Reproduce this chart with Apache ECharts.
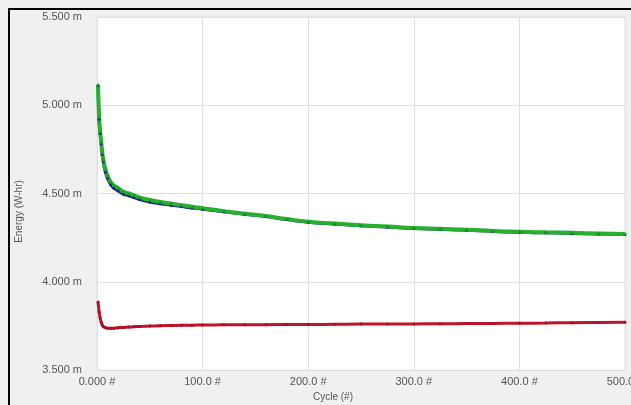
<!DOCTYPE html>
<html lang="en">
<head>
    <meta charset="UTF-8">
    <title>Energy vs Cycle</title>
    <style>
        *{
            margin: 0;
            padding: 0;
        }
        html, body{
            background: #f0f0f0;
            width: 631px;
            height: 405px;
            overflow: hidden;
        }
        .frame{
            position: absolute;
            left: 8px;
            top: 8px;
            width: 621px;
            height: 395px;
            border-top: 2px solid #000;
            border-left: 2px solid #000;
            overflow: hidden;
        }
        #box{
            width: 630px;
            height: 400px;
        }
    </style>
    <script src="https://cdn.jsdelivr.net/npm/echarts@6/dist/echarts.min.js"></script>
</head>
<body>
    <div class="frame"><div id="box"></div></div>
    <script>
        // cycle numbers
        var cycles = [1,2,3,4,5,6,8,10,13,16,20,25,30,35,40,50,60,70,80,90,100,120,140,160,180,200,225,250,275,300,325,350,375,400,425,450,475,500];
        // green series
        var greenVals = [5.115,4.93,4.85,4.79,4.73,4.69,4.635,4.60,4.565,4.545,4.530,4.510,4.500,4.490,4.478,4.463,4.452,4.443,4.434,4.425,4.417,4.400,4.385,4.372,4.355,4.340,4.330,4.320,4.313,4.305,4.300,4.295,4.288,4.283,4.280,4.277,4.273,4.270];
        // blue series (mostly hidden under green)
        var blueVals = [5.11,4.92,4.84,4.78,4.72,4.68,4.62,4.585,4.55,4.53,4.515,4.497,4.487,4.477,4.467,4.452,4.442,4.434,4.426,4.418,4.411,4.396,4.382,4.369,4.352,4.337,4.327,4.317,4.310,4.302,4.297,4.292,4.285,4.280,4.277,4.274,4.270,4.267];
        // red series
        var redVals = [3.885,3.83,3.795,3.77,3.755,3.746,3.740,3.737,3.736,3.737,3.739,3.741,3.743,3.745,3.747,3.749,3.751,3.752,3.753,3.754,3.755,3.756,3.757,3.757,3.758,3.758,3.759,3.760,3.760,3.761,3.762,3.763,3.764,3.765,3.766,3.768,3.769,3.771];

        function pairs(vals){
            var out = [];
            for(var i = 0; i < cycles.length; i++){
                out.push([cycles[i], vals[i]]);
            }
            return out;
        }

        var myChart = echarts.init(document.getElementById('box'));
        var option = {
            animation: false,
            textStyle: { fontFamily: 'Liberation Sans, Arial, sans-serif' },
            grid: {
                left: 87,
                top: 7,
                right: 15,
                bottom: 40,
                outerBoundsMode: 'none',
                containLabel: false,
                show: true,
                backgroundColor: '#ffffff',
                borderColor: '#e2e2e2',
                borderWidth: 1
            },
            xAxis: {
                type: 'value',
                min: 0,
                max: 500,
                interval: 100,
                name: 'Cycle (#)',
                nameLocation: 'middle',
                nameGap: 20,
                nameTextStyle: { color: '#555', fontSize: 10, padding: [0, 56, 0, 0] },
                axisLine: { show: false },
                axisTick: { show: false },
                axisLabel: {
                    color: '#555',
                    fontSize: 11,
                    margin: 6,
                    formatter: function(v){
                        return v === 0 ? '0.000 #' : v.toFixed(1) + ' #';
                    }
                },
                splitLine: { lineStyle: { color: '#e0e0e0' } }
            },
            yAxis: {
                type: 'value',
                min: 3.5,
                max: 5.5,
                interval: 0.5,
                name: 'Energy (W-hr)',
                nameLocation: 'middle',
                nameGap: 73,
                nameTextStyle: { color: '#555', fontSize: 10, padding: [0, 36, 0, 0] },
                axisLine: { show: false },
                axisTick: { show: false },
                axisLabel: {
                    color: '#555',
                    fontSize: 11,
                    margin: 15,
                    formatter: function(v){
                        return v.toFixed(3) + ' m';
                    }
                },
                splitLine: { lineStyle: { color: '#e0e0e0' } }
            },
            series: [
                {
                    name: 'blue',
                    type: 'line',
                    data: pairs(blueVals),
                    smooth: true,
                    symbol: 'circle',
                    symbolSize: 3,
                    itemStyle: { color: '#1c2a80' },
                    lineStyle: { color: '#1c2a80', width: 3 }
                },
                {
                    name: 'green',
                    type: 'line',
                    data: pairs(greenVals),
                    smooth: true,
                    symbol: 'circle',
                    symbolSize: 3,
                    itemStyle: { color: '#1f9e28' },
                    lineStyle: { color: '#26b02e', width: 4 }
                },
                {
                    name: 'red',
                    type: 'line',
                    data: pairs(redVals),
                    smooth: true,
                    symbol: 'circle',
                    symbolSize: 3,
                    itemStyle: { color: '#a80f22' },
                    lineStyle: { color: '#c0142a', width: 3 }
                }
            ]
        };
        myChart.setOption(option);
    </script>
</body>
</html>
